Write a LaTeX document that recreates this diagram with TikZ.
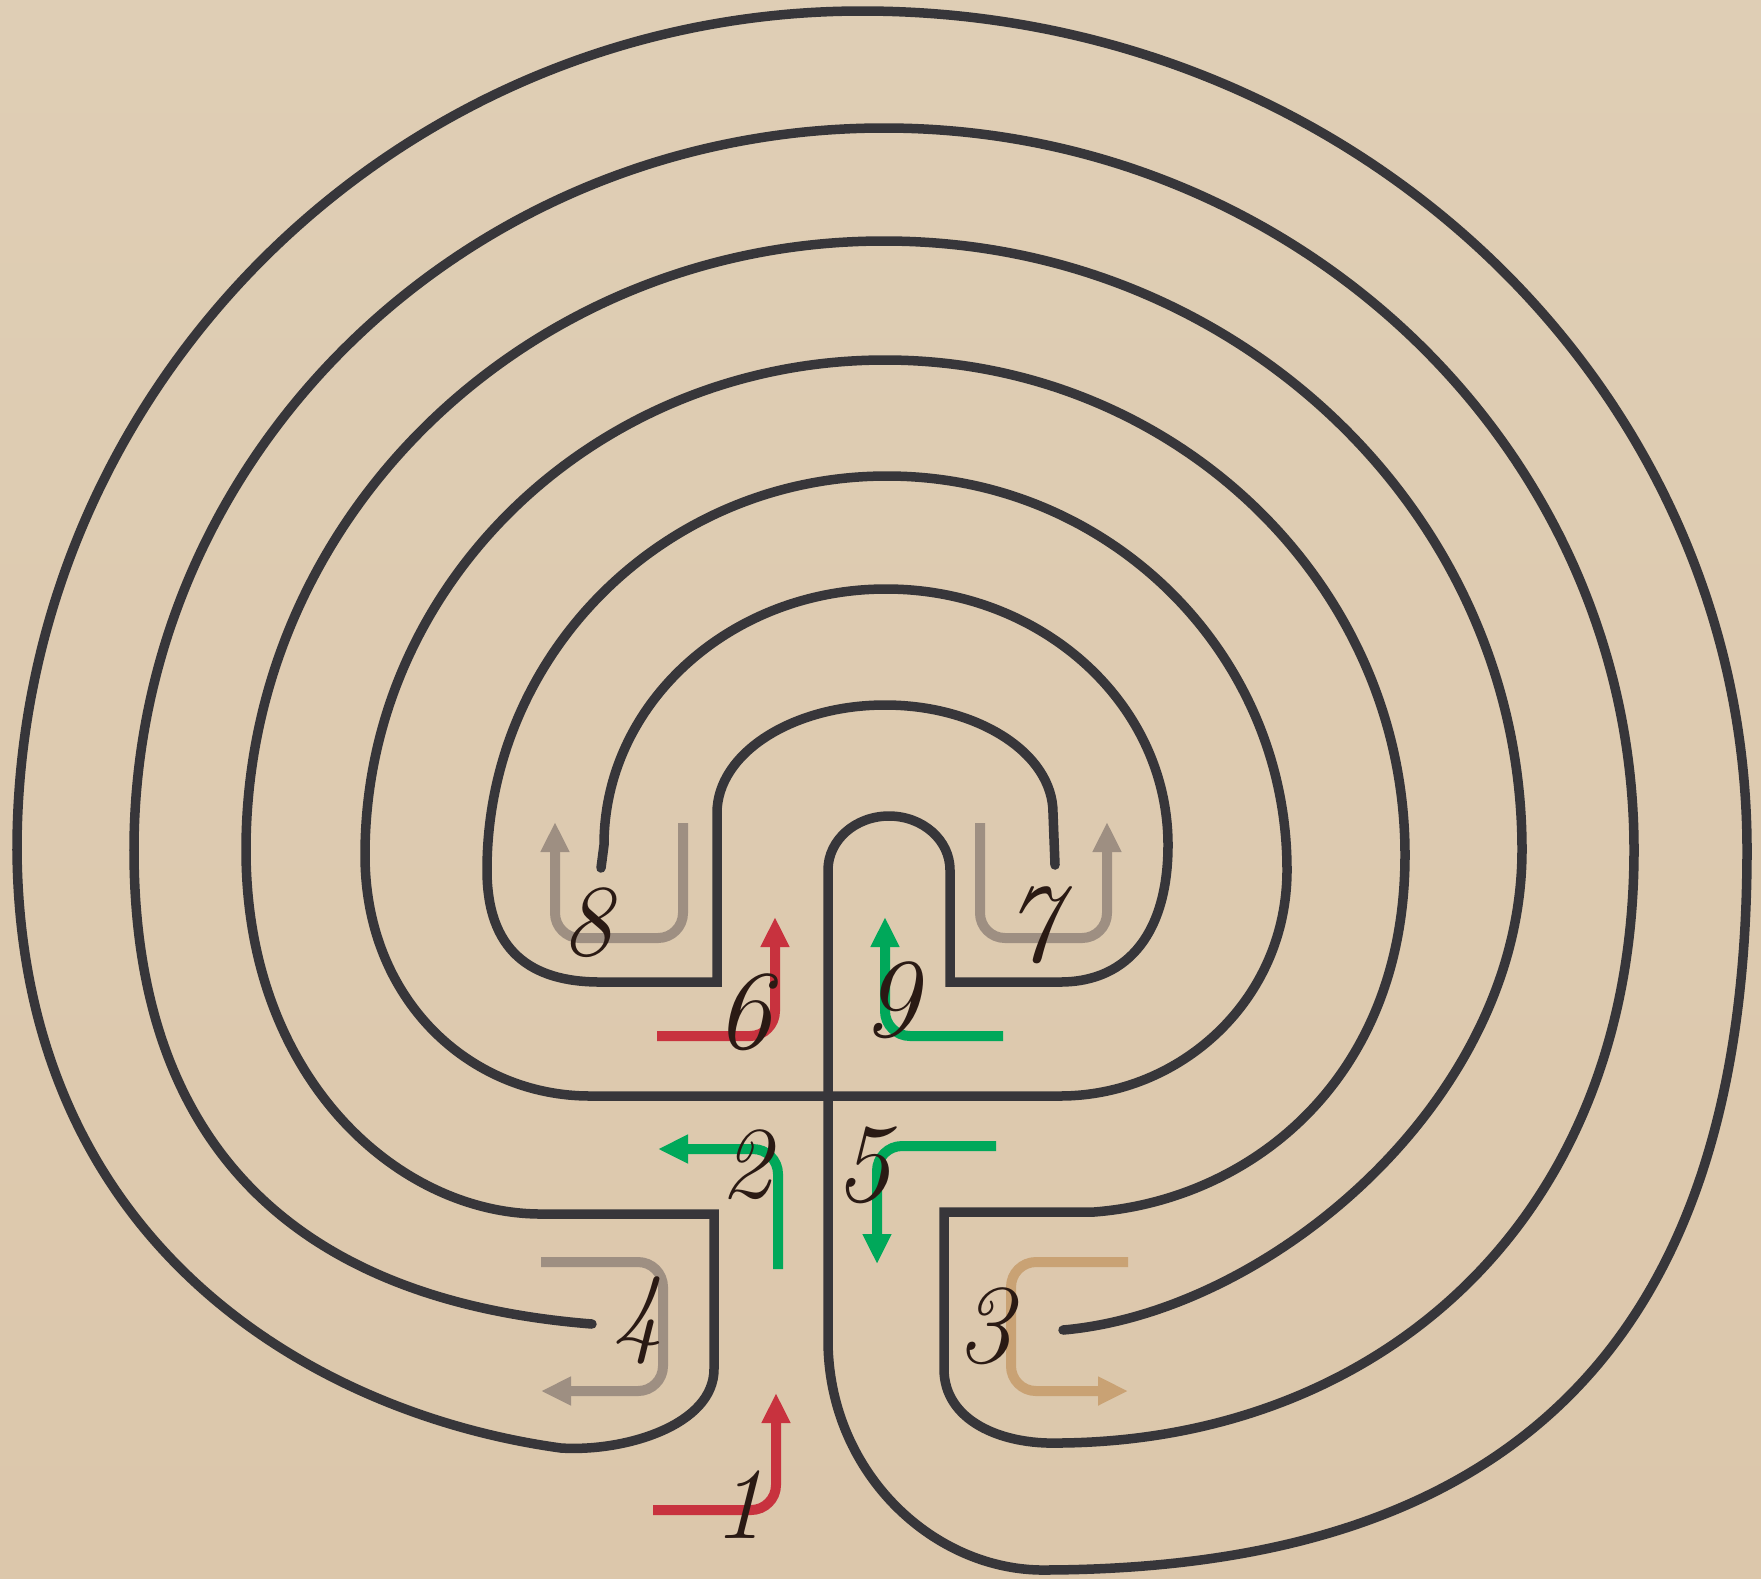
\documentclass[tikz,border=0pt]{standalone}
\usetikzlibrary{arrows.meta}
\definecolor{bgtop}{HTML}{DFCEB5}
\definecolor{bgbot}{HTML}{DCC7AB}
\definecolor{wallc}{HTML}{37363A}
\definecolor{redc}{HTML}{C8323E}
\definecolor{greenc}{HTML}{00A85A}
\definecolor{grayc}{HTML}{9E8F82}
\definecolor{tanc}{HTML}{C9A274}
\definecolor{inkc}{HTML}{2A1A14}
\newcommand{\bigdig}[1]{{\fontsize{32}{32}\selectfont\itshape #1}}
\newcommand{\lnf}[1]{{\fontsize{29}{29}\selectfont\itshape #1}}
\tikzset{
  wall/.style={draw=wallc, line width=0.095cm, line cap=round},
  guide/.style={line width=0.10cm, rounded corners=0.25cm, -{Triangle[length=0.30cm,width=0.27cm]}},
  numlab/.style={inner sep=0pt, text=inkc},
}
\begin{document}
\begin{tikzpicture}[x=0.01cm, y=-0.01cm]
\useasboundingbox (0,0) rectangle (1761,1578);
\shade[top color=bgtop, bottom color=bgbot] (0,0) rectangle (1761,1578);

% wall 1
\draw[wall] (601,868) -- (604,845)
  .. controls +(0,-141.4) and +(-155.7,0) .. (886,589)
  .. controls +(155.7,0) and +(0,-141.4) .. (1168,845)
  .. controls (1168,930) and (1130,982) .. (1060,982)
  -- (950,982) -- (950,870)
  .. controls +(0,-29.8) and +(33.7,0) .. (889,816)
  .. controls +(-33.7,0) and +(0,-29.8) .. (828,870)
  -- (828,1340)
  .. controls (828,1470) and (930,1568) .. (1040,1570)
  .. controls (1485,1570) and (1747,1368) .. (1747,850)
  .. controls +(0,-463.4) and +(490,0) .. (862,11)
  .. controls +(-465,0) and +(0,-463.4) .. (17,850)
  .. controls (20,1250) and (320,1415) .. (561,1448)
  .. controls (625,1452) and (714,1425) .. (714,1369)
  -- (714,1214) -- (541,1214)
  .. controls (400,1214) and (246,1080) .. (246,850)
  .. controls +(0,-336.4) and +(-352.4,0) .. (884,241)
  .. controls +(352.4,0) and +(0,-336.4) .. (1522,850)
  .. controls (1522,1100) and (1270,1312) .. (1063,1330);

% wall 2
\draw[wall] (828,1096) -- (590,1096)
  .. controls (470,1096) and (365,1000) .. (365,855)
  .. controls +(0,-273.4) and +(-287.2,0) .. (885,360)
  .. controls +(287.2,0) and +(0,-273.4) .. (1405,855)
  .. controls (1405,1080) and (1250,1200) .. (1094,1212)
  -- (944,1212) -- (944,1369)
  .. controls (944,1420) and (1000,1445) .. (1060,1443)
  .. controls (1380,1440) and (1634,1220) .. (1634,850)
  .. controls +(0,-398.8) and +(414.2,0) .. (884,128)
  .. controls +(-414.2,0) and +(0,-398.8) .. (134,850)
  .. controls (134,1140) and (290,1300) .. (592,1324);

% wall 3
\draw[wall] (828,1096) -- (1060,1096)
  .. controls (1180,1096) and (1287,1000) .. (1287,870)
  .. controls +(0,-217.6) and +(220.9,0) .. (887,476)
  .. controls +(-220.9,0) and +(0,-217.6) .. (487,870)
  .. controls (487,950) and (530,982) .. (600,982)
  -- (717,982) -- (717,813)
  .. controls +(0,-59.6) and +(-92.8,0) .. (885,705)
  .. controls +(92.8,0) and +(0,-59.6) .. (1053,813)
  -- (1055,865);

% guide arrows
\draw[guide, redc] (653,1510) -- (776,1510) -- (776,1393);
\draw[guide, redc] (657,1036) -- (775,1036) -- (775,917);
\draw[guide, greenc] (1003,1036) -- (885,1036) -- (885,917);
\draw[guide, greenc] (778,1269) -- (778,1149) -- (658,1149);
\draw[guide, greenc] (996,1146) -- (877,1146) -- (877,1264);
\draw[guide, grayc] (541,1262) -- (663,1262) -- (663,1391) -- (541,1391);
\draw[guide, tanc] (1128,1262) -- (1011,1262) -- (1011,1391) -- (1128,1391);
\draw[guide, grayc] (683,823) -- (683,938) -- (555,938) -- (555,822);
\draw[guide, grayc] (980,823) -- (980,938) -- (1107,938) -- (1107,822);

% labels
\node[numlab] (n1) at (739,1505) {\lnf{1}};
\node[numlab] (n2) at (746,1165) {\lnf{2}};
\node[numlab] (n3) at (985,1326) {\bigdig{3}};
\node[numlab] (n4) at (638,1320) {\lnf{4}};
\node[numlab] (n5) at (863,1165) {\bigdig{5}};
\node[numlab] (n6) at (744,1012) {\bigdig{6}};
\node[numlab] (n7) at (1032,925) {\bigdig{7}};
\node[numlab] (n8) at (587,923) {\lnf{8}};
\node[numlab] (n9) at (891,1000) {\bigdig{9}};
\end{tikzpicture}
\end{document}
